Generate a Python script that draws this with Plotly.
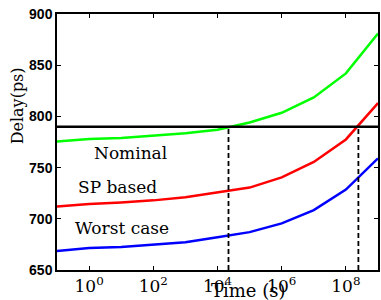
import plotly.graph_objects as go

# Data
time_s = [1e-1, 1e0, 1e1, 1e2, 1e3, 1e4, 1e5, 1e6, 1e7, 1e8, 1e9]
nominal = [775.5, 778, 779, 781, 783.5, 787, 794, 803.5, 818.5, 842, 881]
sp_based = [712, 714.5, 716, 718, 721, 726, 730.5, 740.5, 755.5, 777.5, 813]
worst_case = [668.5, 671.5, 672.5, 674.5, 677, 682, 687, 695.5, 708.5, 728.5, 759]
spec_delay = 790
cross_times = [2.2e4, 2.45e8]
tick_vals = [1e0, 1e2, 1e4, 1e6, 1e8]
tick_text = ["10<sup>0</sup>", "10<sup>2</sup>", "10<sup>4</sup>", "10<sup>6</sup>", "10<sup>8</sup>"]
y_ticks = [650, 700, 750, 800, 850, 900]
y_tick_text = ["<b>650</b>", "<b>700</b>", "<b>750</b>", "<b>800</b>", "<b>850</b>", "<b>900</b>"]

serif = "DejaVu Serif, Liberation Serif, serif"
sans = "Liberation Sans, Arial, Helvetica, sans-serif"

fig = go.Figure()
for ys, col in [(nominal, "#00ff00"), (sp_based, "#ff0000"), (worst_case, "#0000ff")]:
    fig.add_trace(go.Scatter(x=time_s, y=ys, mode="lines",
                             line=dict(color=col, width=2.5), showlegend=False))

fig.add_trace(go.Scatter(x=[time_s[0], time_s[-1]], y=[spec_delay, spec_delay], mode="lines",
                         line=dict(color="black", width=2.5), showlegend=False))
for t in cross_times:
    fig.add_trace(go.Scatter(x=[t, t], y=[y_ticks[0], spec_delay], mode="lines",
                             line=dict(color="black", width=1.8, dash="5px,3px"), showlegend=False))

fig.update_layout(
    width=381, height=300,
    margin=dict(l=57, r=1, t=14, b=30),
    plot_bgcolor="white", paper_bgcolor="white",
    font=dict(family=serif, color="black"),
    xaxis=dict(type="log", range=[-1, 9], tickvals=tick_vals, ticktext=tick_text,
               ticks="inside", ticklen=4, tickcolor="black", showline=True, linecolor="black",
               linewidth=1.5, mirror="ticks", showgrid=False, zeroline=False,
               tickfont=dict(family=serif, size=17, color="black")),
    yaxis=dict(range=[650, 900], tickvals=y_ticks, ticktext=y_tick_text,
               ticks="inside", ticklen=4, tickcolor="black", showline=True, linecolor="black",
               linewidth=1.5, mirror="ticks", showgrid=False, zeroline=False,
               tickfont=dict(family=sans, size=14, color="black")),
    annotations=[
        dict(text="Time (s)", xref="paper", yref="paper", x=0.598, y=-0.08, showarrow=False,
             xanchor="center", yanchor="middle", font=dict(family=serif, size=18, color="black")),
        dict(text="Delay(ps)", xref="paper", yref="paper", x=-0.124, y=0.64, showarrow=False,
             textangle=-90, xanchor="center", yanchor="middle",
             font=dict(family=serif, size=16, color="black")),
        dict(text="Nominal", x=1.29, y=764.5, showarrow=False, xanchor="center", yanchor="middle",
             font=dict(family=serif, size=17, color="black")),
        dict(text="SP based", x=0.886, y=731.3, showarrow=False, xanchor="center", yanchor="middle",
             font=dict(family=serif, size=17, color="black")),
        dict(text="Worst case", x=1.03, y=690.7, showarrow=False, xanchor="center", yanchor="middle",
             font=dict(family=serif, size=17, color="black")),
    ],
)

fig.write_html("out.html", config={"displayModeBar": False},
               post_script="document.body.style.margin='0px';document.body.style.overflow='hidden';")
